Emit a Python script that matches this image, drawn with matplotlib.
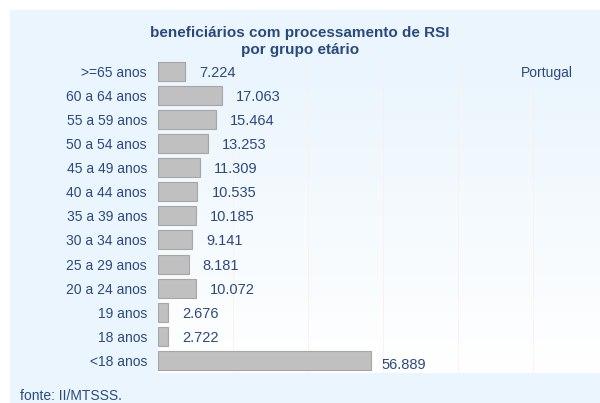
import numpy as np
import matplotlib
matplotlib.use('Agg')
import matplotlib.pyplot as plt
from matplotlib.patches import Rectangle
from matplotlib.colors import LinearSegmentedColormap

plt.rcParams['font.family'] = ['Liberation Sans', 'DejaVu Sans']

categories = ['>=65 anos', '60 a 64 anos', '55 a 59 anos', '50 a 54 anos', '45 a 49 anos',
              '40 a 44 anos', '35 a 39 anos', '30 a 34 anos', '25 a 29 anos', '20 a 24 anos',
              '19 anos', '18 anos', '<18 anos']
values = [7.224, 17.063, 15.464, 13.253, 11.309, 10.535, 10.185, 9.141, 8.181, 10.072,
          2.676, 2.722, 56.889]
labels = ['7.224', '17.063', '15.464', '13.253', '11.309', '10.535', '10.185', '9.141',
          '8.181', '10.072', '2.676', '2.722', '56.889']

text_col = '#2A4A7F'
panel_col = '#EAF5FD'

fig = plt.figure(figsize=(6, 4.03), dpi=100)
fig.patch.set_facecolor('white')
fig.patches.append(Rectangle((9.5 / 600, 0), 1, 1 - 9.5 / 403, transform=fig.transFigure,
                             facecolor=panel_col, edgecolor='none', zorder=-10))

ax = fig.add_axes([158 / 600, 30 / 403, 442 / 600, 314.3 / 403])
ax.set_facecolor('none')
for s in ax.spines.values():
    s.set_visible(False)

# gradient background of the plot area
cmap = LinearSegmentedColormap.from_list('bg', [panel_col, '#FFFFFF'])
grad = np.linspace(0, 1, 256).reshape(-1, 1)
ax.imshow(grad, cmap=cmap, aspect='auto', extent=[0, 1, 0, 1], origin='upper',
          transform=ax.transAxes, zorder=-5)

y = np.arange(len(categories))
ax.barh(y, values, height=0.79, color='#C0C0C0', edgecolor='#A6A6A6', linewidth=0.8, zorder=3)
ax.set_xlim(0, 117.9)
ax.set_ylim(len(categories) - 0.48, -0.52)

for gx in [20, 40, 60, 80, 100]:
    ax.axvline(gx, color='#FCF0E8', linewidth=0.6, zorder=1)

for i, (v, lab) in enumerate(zip(values, labels)):
    if i == len(values) - 1:
        ax.annotate(lab, (v, i + 0.14), xytext=(7, 0), textcoords='offset points',
                    va='center_baseline', ha='left', fontsize=10.5, color=text_col, zorder=4)
    else:
        ax.annotate(lab, (v, i), xytext=(10, 0), textcoords='offset points',
                    va='center_baseline', ha='left', fontsize=10.5, color=text_col, zorder=4)

ax.set_yticks(y)
ax.set_yticklabels(categories, fontsize=10, color=text_col)
ax.set_xticks([])
ax.tick_params(axis='y', length=0, pad=8)

fig.text(0.5, 1 - 37.5 / 403, 'beneficiários com processamento de RSI', ha='center', va='baseline',
         fontsize=11, fontweight='bold', color=text_col)
fig.text(0.5, 1 - 54 / 403, 'por grupo etário', ha='center', va='baseline',
         fontsize=11, fontweight='bold', color=text_col)
fig.text(547 / 600, 1 - 72 / 403, 'Portugal', ha='center', va='center_baseline', fontsize=10,
         color=text_col)
fig.text(20 / 600, 1 - 394 / 403, 'fonte: II/MTSSS.', ha='left', va='center_baseline', fontsize=10,
         color=text_col)

fig.savefig('out.png', dpi=100)
